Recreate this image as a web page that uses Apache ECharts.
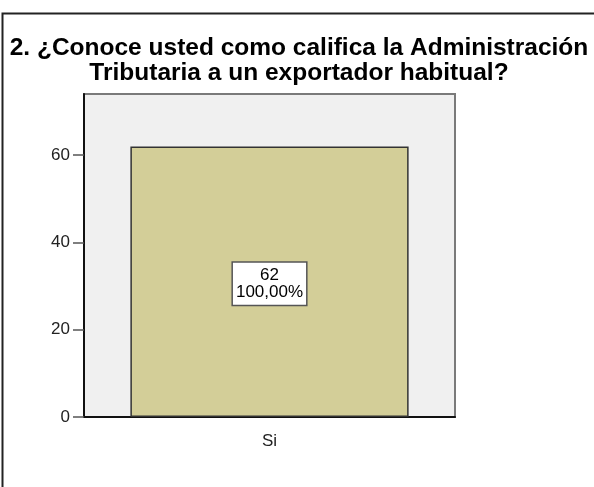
<!DOCTYPE html>
<html><head><meta charset="utf-8">
<script src="https://cdn.jsdelivr.net/npm/echarts@6/dist/echarts.min.js"></script>
<style>html,body{margin:0;padding:0;background:#fff}#c{width:594px;height:487px}</style>
</head><body><div id="c"></div>
<script>
const titleText = '2. ¿Conoce usted como califica la Administración\nTributaria a un exportador habitual?';
const categories = ['Si'];
const counts = [62];
const percents = ['100,00%'];
const yTicks = [0, 20, 40, 60];

const FONT = 'Liberation Sans, Arial, sans-serif';
const chart = echarts.init(document.getElementById('c'), null, {renderer: 'canvas'});
chart.setOption({
  animation: false,
  backgroundColor: '#fff',
  title: {
    text: titleText, left: 299, top: 36, textAlign: 'center', padding: 0,
    textStyle: {fontFamily: FONT, fontSize: 24.5, fontWeight: 'bold', color: '#000', lineHeight: 25}
  },
  graphic: [
    {type: 'polyline', shape: {points: [[2.5, 487], [2.5, 13.5], [594, 13.5]]}, style: {stroke: '#222', lineWidth: 2, fill: null}, silent: true}
  ],
  grid: {left: 84, top: 94, right: 139, bottom: 70, show: true, backgroundColor: '#f0f0f0', borderColor: '#7a7a7a', borderWidth: 2},
  xAxis: {
    type: 'category', data: categories,
    axisLine: {lineStyle: {color: '#111', width: 2}},
    axisTick: {alignWithLabel: true, length: 10, lineStyle: {color: '#555', width: 1.5}},
    axisLabel: {margin: 16, color: '#222', fontSize: 17, fontFamily: FONT}
  },
  yAxis: {
    type: 'value', min: 0, max: 74, interval: 20,
    splitLine: {show: false},
    axisLine: {show: true, lineStyle: {color: '#111', width: 2}},
    axisTick: {show: true, length: 11, customValues: yTicks, lineStyle: {color: '#555', width: 1.5}},
    axisLabel: {margin: 14, color: '#222', fontSize: 17, fontFamily: FONT, customValues: yTicks}
  },
  series: [{
    type: 'bar', data: counts, barWidth: '75%',
    itemStyle: {color: '#d3ce98', borderColor: '#333', borderWidth: 1.5},
    label: {
      show: true, position: 'inside', offset: [0, 2],
      formatter: p => counts[p.dataIndex] + '\n' + percents[p.dataIndex],
      backgroundColor: '#fff', borderColor: '#555', borderWidth: 1.5, padding: [5, 3, 3, 3],
      color: '#000', fontSize: 17, lineHeight: 17, fontFamily: FONT
    }
  }]
});
</script></body></html>
